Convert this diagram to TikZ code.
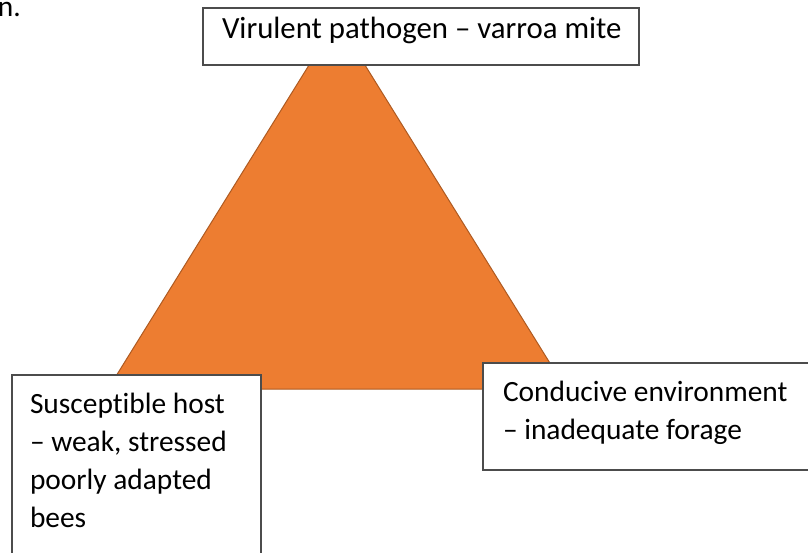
\documentclass[tikz,border=0pt]{standalone}
\usepackage{fontspec}
\setmainfont{Carlito}[Ligatures=NoCommon]
\definecolor{tri}{HTML}{ED7D31}
\definecolor{triedge}{HTML}{AE5A21}
\begin{document}
\begin{tikzpicture}[x=1pt,y=-1pt,
  lbl/.style={inner sep=0pt, outer sep=0pt, anchor=base west, font=\fontsize{29.4}{38}\selectfont},
  toplbl/.style={lbl, font=\fontsize{30.8}{38}\selectfont},
  box/.style={draw=black!70, line width=1.3pt, fill=white, inner sep=0pt, outer sep=0pt, anchor=north west},
]
\useasboundingbox (0,0) rectangle (808,553);
\clip (0,0) rectangle (808,553);
\node[lbl] (frag) at (-2,17) {n.};
\coordinate (apex) at (337,20);
\coordinate (bl) at (108,389);
\coordinate (br) at (566,389);
\filldraw[fill=tri, draw=triedge, line width=1pt] (apex) -- (bl) -- (br) -- cycle;
\node[box, minimum width=436pt, minimum height=57pt] (topbox) at (203,8) {};
\node[toplbl] (toptext) at (222,39) {Virulent pathogen – varroa mite};
\node[box, minimum width=249pt, minimum height=200pt] (hostbox) at (12,375) {};
\node[lbl] (host1) at (30,413) {Susceptible host};
\node[lbl] (host2) at (30,451) {– weak, stressed};
\node[lbl] (host3) at (30,489) {poorly adapted};
\node[lbl] (host4) at (30,527) {bees};
\node[box, minimum width=340pt, minimum height=107pt] (envbox) at (483,363) {};
\node[lbl] (env1) at (503,401) {Conducive environment};
\node[lbl] (env2) at (503,439) {– inadequate forage};
\end{tikzpicture}
\end{document}
